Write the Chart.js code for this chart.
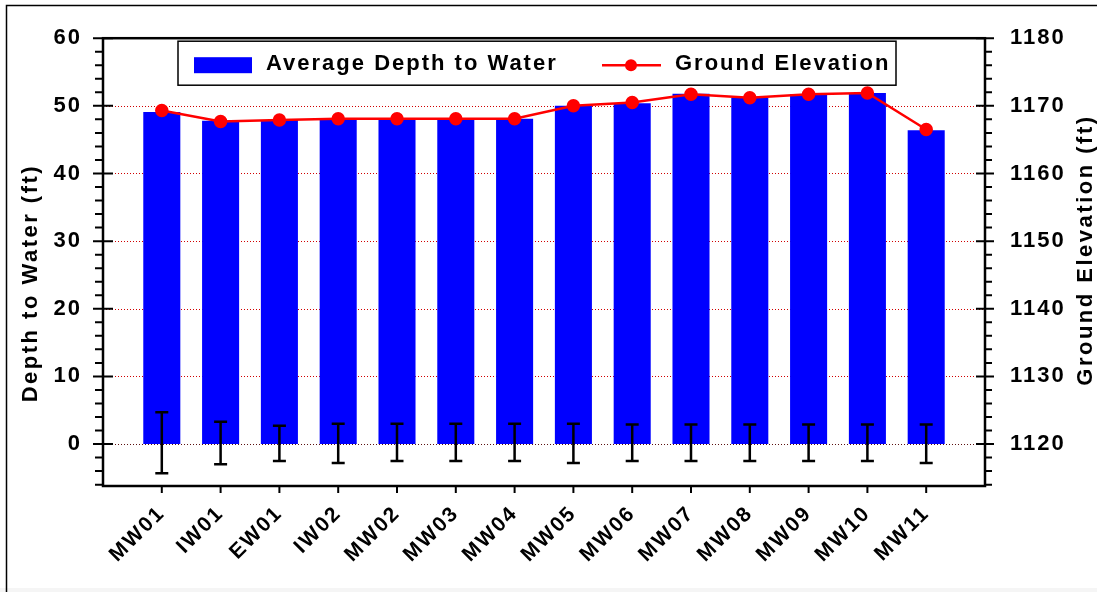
<!DOCTYPE html>
<html><head><meta charset="utf-8">
<script src="https://cdn.jsdelivr.net/npm/chart.js@4/dist/chart.umd.min.js"></script>
<style>html,body{margin:0;padding:0;background:#fff;} canvas{display:block;}</style>
</head><body>
<canvas id="c" width="1097" height="592"></canvas>
<script>
const categories = ['MW01','IW01','EW01','IW02','MW02','MW03','MW04','MW05','MW06','MW07','MW08','MW09','MW10','MW11'];
const avgDepth   = [49.1, 47.8, 47.9, 48.0, 48.0, 48.0, 48.1, 50.0, 50.4, 51.8, 51.2, 51.7, 51.9, 46.4];
const groundElev = [1169.3, 1167.7, 1167.9, 1168.1, 1168.1, 1168.1, 1168.1, 1170.0, 1170.5, 1171.7, 1171.2, 1171.7, 1171.9, 1166.5];
const errHigh    = [4.7, 3.3, 2.7, 3.0, 3.0, 3.0, 3.0, 3.0, 2.9, 2.9, 2.9, 2.9, 2.9, 2.9];
const errLow     = [-4.3, -3.0, -2.5, -2.8, -2.5, -2.5, -2.5, -2.8, -2.5, -2.5, -2.5, -2.5, -2.5, -2.8];
const leftTicks  = [0, 10, 20, 30, 40, 50, 60];
const rightTicks = [1120, 1130, 1140, 1150, 1160, 1170, 1180];
const seriesNames = ['Average Depth to Water', 'Ground Elevation'];
const axisTitles  = ['Depth to Water (ft)', 'Ground Elevation (ft)'];

const FONT = '"Liberation Sans", Arial, sans-serif';
const LS = '2px';
const labels = ['', ...categories, ''];
const pad = a => [null, ...a, null];

const spacingPlugin = {
  id: 'spacing',
  beforeUpdate(c) { c.ctx.letterSpacing = LS; },
  beforeDraw(c) { c.ctx.letterSpacing = LS; }
};

const bgPlugin = {
  id: 'bg',
  beforeDraw(c) {
    const ctx = c.ctx;
    ctx.save();
    ctx.fillStyle = '#fff';
    ctx.fillRect(0, 0, c.width, c.height);
    ctx.fillStyle = '#f5f5f5';
    ctx.fillRect(0, 588, c.width, c.height - 588);
    ctx.strokeStyle = '#000';
    ctx.lineWidth = 1.5;
    ctx.beginPath();
    ctx.moveTo(6.5, c.height); ctx.lineTo(6.5, 5.5); ctx.lineTo(c.width, 5.5);
    ctx.stroke();
    ctx.restore();
  }
};

const gridPlugin = {
  id: 'grid',
  beforeDatasetsDraw(c) {
    const {ctx, chartArea: a, scales: {y}} = c;
    ctx.save();
    ctx.lineWidth = 1;
    ctx.setLineDash([1, 2]);
    leftTicks.forEach(v => {
      if (v >= y.max) return;
      const py = Math.round(y.getPixelForValue(v)) + 0.5;
      ctx.strokeStyle = v === 0 ? '#5a1010' : '#d00000';
      ctx.beginPath(); ctx.moveTo(a.left, py); ctx.lineTo(a.right, py); ctx.stroke();
    });
    ctx.restore();
  }
};

const errPlugin = {
  id: 'err',
  afterDatasetsDraw(c) {
    const {ctx, scales: {x, y}} = c;
    ctx.save();
    ctx.strokeStyle = '#000';
    ctx.lineWidth = 2.5;
    categories.forEach((cat, i) => {
      const px = x.getPixelForValue(i + 1);
      const yt = y.getPixelForValue(errHigh[i]);
      const yb = y.getPixelForValue(errLow[i]);
      ctx.beginPath();
      ctx.moveTo(px, yt); ctx.lineTo(px, yb);
      ctx.moveTo(px - 6.5, yt); ctx.lineTo(px + 6.5, yt);
      ctx.moveTo(px - 6.5, yb); ctx.lineTo(px + 6.5, yb);
      ctx.stroke();
    });
    ctx.restore();
  }
};

const framePlugin = {
  id: 'frame',
  afterDraw(c) {
    const {ctx, chartArea: a, scales: {x, y, y1}} = c;
    ctx.save();
    ctx.strokeStyle = '#000';
    ctx.fillStyle = '#000';
    ctx.lineWidth = 2.5;
    ctx.strokeRect(a.left, a.top, a.right - a.left, a.bottom - a.top);
    ctx.lineWidth = 2;
    ctx.beginPath();
    for (let v = Math.ceil(y.min / 2) * 2; v <= y.max; v += 2) {
      const py = y.getPixelForValue(v);
      if (v % 10 === 0) { ctx.moveTo(a.left - 10, py); ctx.lineTo(a.left + 10, py); }
      else { ctx.moveTo(a.left - 8, py); ctx.lineTo(a.left, py); }
    }
    for (let v = Math.ceil(y1.min / 2) * 2; v <= y1.max; v += 2) {
      const py = y1.getPixelForValue(v);
      if (v % 10 === 0) { ctx.moveTo(a.right - 9, py); ctx.lineTo(a.right + 9, py); }
      else { ctx.moveTo(a.right, py); ctx.lineTo(a.right + 7, py); }
    }
    categories.forEach((cat, i) => {
      const px = x.getPixelForValue(i + 1);
      ctx.moveTo(px, a.bottom); ctx.lineTo(px, a.bottom + 7);
    });
    ctx.stroke();

    ctx.font = 'bold 22px ' + FONT;
    ctx.letterSpacing = '2.5px';
    ctx.textAlign = 'center';
    ctx.textBaseline = 'alphabetic';
    ctx.save();
    ctx.translate(37, (a.top + a.bottom) / 2 + 21);
    ctx.rotate(-Math.PI / 2);
    ctx.fillText(axisTitles[0], 0, 0);
    ctx.restore();
    ctx.save();
    ctx.translate(1092, (a.top + a.bottom) / 2 - 12);
    ctx.rotate(-Math.PI / 2);
    ctx.fillText(axisTitles[1], 0, 0);
    ctx.restore();

    const lx = a.left + 75, ly = a.top + 3, lw = 718, lh = 44;
    ctx.fillStyle = '#fff';
    ctx.fillRect(lx, ly, lw, lh);
    ctx.lineWidth = 1.5;
    ctx.strokeStyle = '#000';
    ctx.strokeRect(lx, ly, lw, lh);
    ctx.fillStyle = '#0000ff';
    ctx.fillRect(lx + 16, ly + 16, 58, 16);
    ctx.strokeStyle = '#ff0000';
    ctx.lineWidth = 2.5;
    ctx.beginPath(); ctx.moveTo(lx + 424, ly + 24); ctx.lineTo(lx + 483, ly + 24); ctx.stroke();
    ctx.fillStyle = '#ff0000';
    ctx.beginPath(); ctx.arc(lx + 453, ly + 24, 6, 0, Math.PI * 2); ctx.fill();
    ctx.fillStyle = '#000';
    ctx.font = 'bold 22px ' + FONT;
    ctx.letterSpacing = '2px';
    ctx.textAlign = 'left';
    ctx.textBaseline = 'middle';
    ctx.fillText(seriesNames[0], lx + 88, ly + 23);
    ctx.fillText(seriesNames[1], lx + 497, ly + 23);
    ctx.restore();
  }
};

const tickFont = {family: FONT, size: 22, weight: 'bold'};

new Chart(document.getElementById('c').getContext('2d'), {
  type: 'bar',
  data: {
    labels,
    datasets: [
      {type: 'line', label: seriesNames[1], data: pad(groundElev), yAxisID: 'y1',
       borderColor: '#ff0000', backgroundColor: '#ff0000', borderWidth: 2.5,
       pointRadius: 5.5, pointBackgroundColor: '#ff0000', pointBorderColor: '#ff0000',
       tension: 0, order: 0},
      {type: 'bar', label: seriesNames[0], data: pad(avgDepth), yAxisID: 'y',
       backgroundColor: '#0000ff', borderWidth: 0, barPercentage: 0.63,
       categoryPercentage: 1, order: 1}
    ]
  },
  options: {
    responsive: false,
    animation: false,
    layout: {padding: {top: 35, left: 0, right: 0, bottom: 0}},
    plugins: {legend: {display: false}, tooltip: {enabled: false}},
    scales: {
      x: {type: 'category', offset: false,
          grid: {display: false, drawTicks: false}, border: {display: false},
          ticks: {autoSkip: false, maxRotation: 45, minRotation: 45, padding: 15,
                  color: '#000', font: {family: FONT, size: 21, weight: 'bold'}},
          afterFit(s) { s.height = 106; }},
      y: {position: 'left', min: -6.2, max: 60,
          grid: {display: false, drawTicks: false}, border: {display: false},
          afterBuildTicks(s) { s.ticks = leftTicks.map(v => ({value: v})); },
          ticks: {padding: 21, color: '#000', font: tickFont, callback: v => String(v)},
          afterFit(s) { s.width = 103; }},
      y1: {position: 'right', min: 1113.8, max: 1180,
           grid: {display: false, drawTicks: false}, border: {display: false},
           afterBuildTicks(s) { s.ticks = rightTicks.map(v => ({value: v})); },
           ticks: {padding: 25, color: '#000', font: tickFont, callback: v => String(v)},
           afterFit(s) { s.width = 112; }}
    }
  },
  plugins: [spacingPlugin, bgPlugin, gridPlugin, errPlugin, framePlugin]
});
</script>
</body></html>
